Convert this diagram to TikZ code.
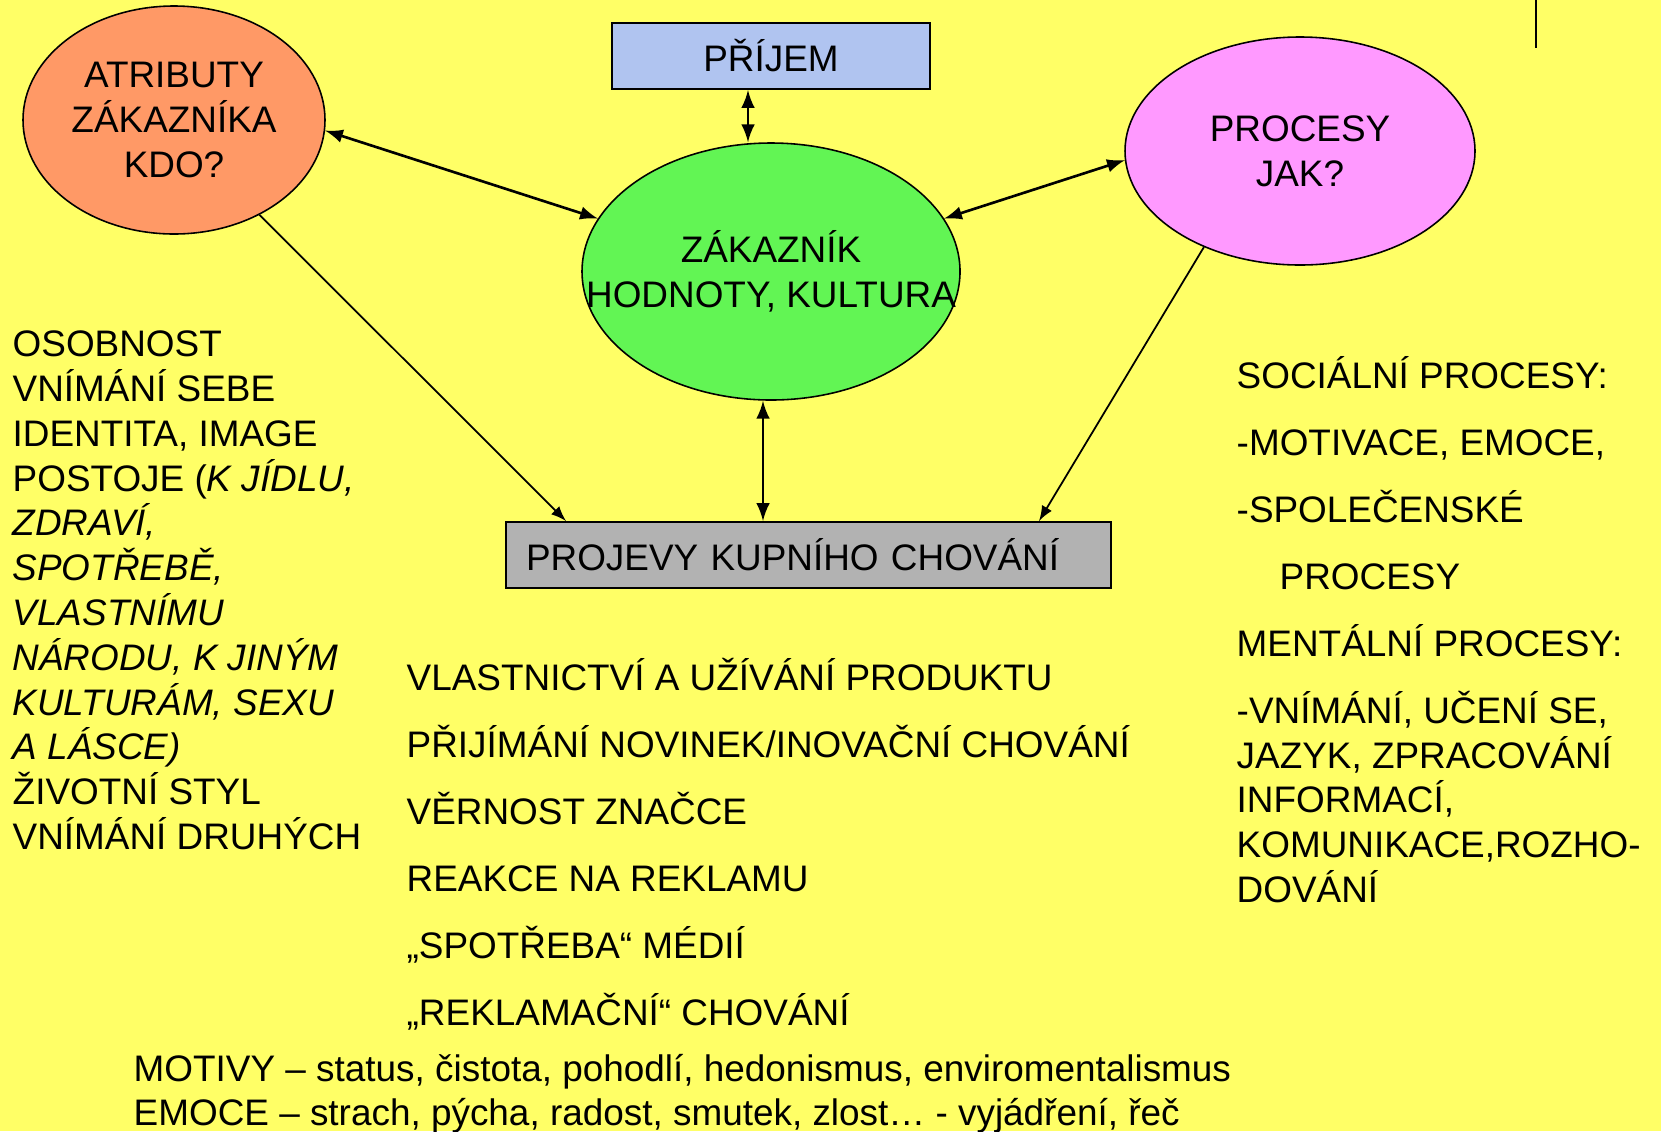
\documentclass[tikz,border=0pt]{standalone}
\usepackage{fontspec}
\setmainfont{Liberation Sans}
\usepackage{tikz}
\usetikzlibrary{shapes,arrows,positioning,calc}
\definecolor{slide}{RGB}{255,255,102}
\definecolor{kdo}{RGB}{255,153,102}
\definecolor{hodnoty}{RGB}{98,245,84}
\definecolor{jak}{RGB}{255,153,255}
\definecolor{prijemblue}{RGB}{176,196,240}
\definecolor{projevgray}{RGB}{178,178,178}
\newcommand{\slidefont}{\fontsize{10.5}{12.75}\selectfont}
\tikzstyle{bubble} = [ellipse, draw, line width=0.45pt, inner sep=0pt]
\tikzstyle{bubbletext} = [align=center, inner sep=0pt, font=\slidefont]
\tikzstyle{tbox} = [rectangle, draw, line width=0.6pt, inner sep=0pt, minimum height=0.66cm, font=\slidefont]
\tikzstyle{txt} = [anchor=base west, inner sep=0pt, align=left, font=\slidefont]
\tikzstyle{link} = [<->, >=latex, line width=0.75pt]
\tikzstyle{feed} = [->, >=latex, line width=0.5pt]

\begin{document}
\begin{tikzpicture}
    \useasboundingbox (0,0) rectangle (16.61,-11.31);
    \fill[slide] (0,0) rectangle (16.61,-11.31);
    \draw[line width=0.6pt] (15.36,0) -- (15.36,-0.48);
    % bubliny a boxy
    \node[bubble, fill=kdo, minimum width=3.02cm, minimum height=2.28cm] (atrib) at (1.74,-1.20) {};
    \node[bubbletext] (atribtext) at (atrib.center) {ATRIBUTY\\ZÁKAZNÍKA\\KDO?};
    \node[tbox, fill=prijemblue, minimum width=3.18cm] (prijem) at (7.71,-0.56) {PŘÍJEM};
    \node[bubble, fill=hodnoty, minimum width=3.78cm, minimum height=2.57cm] (zak) at (7.71,-2.715) {};
    \node[bubbletext] (zaktext) at (zak.center) {ZÁKAZNÍK\\HODNOTY, KULTURA};
    \node[bubble, fill=jak, minimum width=3.50cm, minimum height=2.28cm] (procesy) at (13.00,-1.51) {};
    \node[bubbletext] (procesytext) at (procesy.center) {PROCESY\\JAK?};
    \node[tbox, fill=projevgray, minimum width=6.05cm, text width=5.65cm, inner xsep=0.2cm, align=left] (projevy) at (8.085,-5.55) {PROJEVY KUPNÍHO CHOVÁNÍ};
    % sipky
    \draw[link] (atrib.-4) -- (zak.163);
    \draw[link] ([xshift=-2.3mm]prijem.south) -- ([xshift=-2.3mm]zak.north);
    \draw[link] (zak.17) -- (procesy.183);
    \draw[link] ([xshift=-0.8mm]zak.south) -- ([xshift=-0.8mm]zak.south |- projevy.north);
    \draw[feed] (atrib.-48) -- ([xshift=6.1mm]projevy.north west);
    \draw[feed] (procesy.-135) -- ([xshift=-7.3mm]projevy.north east);
    % texty (kotva = uctari posledniho radku)
    \node[txt] (kdolist) at (0.12,-8.495) {OSOBNOST\\VNÍMÁNÍ SEBE\\IDENTITA, IMAGE\\POSTOJE (\textit{K JÍDLU,}\\\textit{ZDRAVÍ,}\\\textit{SPOTŘEBĚ,}\\\textit{VLASTNÍMU}\\\textit{NÁRODU, K JINÝM}\\\textit{KULTURÁM, SEXU}\\\textit{A LÁSCE)}\\ŽIVOTNÍ STYL\\VNÍMÁNÍ DRUHÝCH};
    \node[txt] (jaklist) at (12.36,-9.025) {SOCIÁLNÍ PROCESY:\\[6.3pt]-MOTIVACE, EMOCE,\\[6.3pt]-SPOLEČENSKÉ\\[6.3pt]\hspace*{0.43cm}PROCESY\\[6.3pt]MENTÁLNÍ PROCESY:\\[6.3pt]-VNÍMÁNÍ, UČENÍ SE,\\JAZYK, ZPRACOVÁNÍ\\INFORMACÍ,\\KOMUNIKACE,ROZHO-\\DOVÁNÍ};
    \node[txt] (projlist) at (4.06,-10.253) {VLASTNICTVÍ A UŽÍVÁNÍ PRODUKTU\\[6.3pt]PŘIJÍMÁNÍ NOVINEK/INOVAČNÍ CHOVÁNÍ\\[6.3pt]VĚRNOST ZNAČCE\\[6.3pt]REAKCE NA REKLAMU\\[6.3pt]„SPOTŘEBA“ MÉDIÍ\\[6.3pt]„REKLAMAČNÍ“ CHOVÁNÍ};
    \node[txt] (motivy) at (1.33,-11.25) {MOTIVY – status, čistota, pohodlí, hedonismus, enviromentalismus\\[-0.5pt]EMOCE – strach, pýcha, radost, smutek, zlost… - vyjádření, řeč};
\end{tikzpicture}
\end{document}
